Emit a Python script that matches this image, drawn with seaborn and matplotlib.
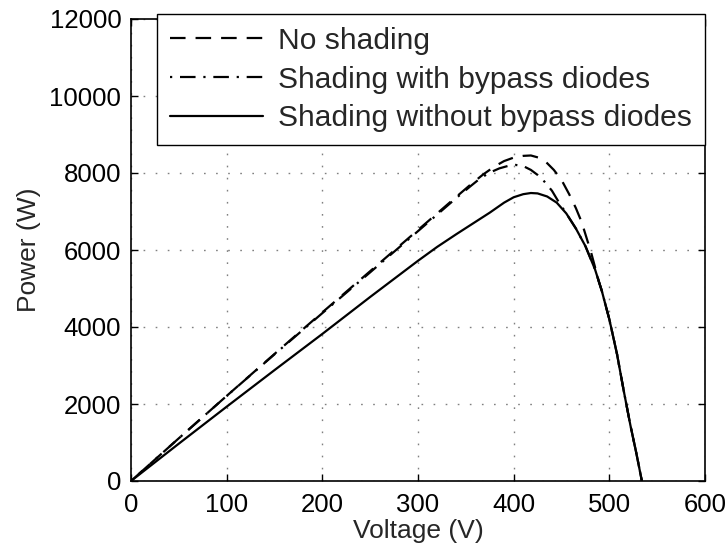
import matplotlib
matplotlib.use("Agg")
import matplotlib.pyplot as plt
import seaborn as sns
import pandas as pd

# P-V characteristics of the PV array (voltage in V, power in W)
v_no_shading = [0, 50, 100, 150, 200, 250, 300, 320, 340, 355, 368, 380, 390, 400, 410, 418,
                426, 434, 442, 450, 458, 465, 471, 476, 481, 485, 489, 492, 500, 508, 515,
                522, 528, 534]
p_no_shading = [0, 1110, 2210, 3300, 4380, 5450, 6520, 6950, 7380, 7700, 7960, 8170, 8310, 8400,
                8445, 8455, 8400, 8280, 8080, 7820, 7450, 7090, 6730, 6330, 5930, 5560, 5180,
                4950, 4200, 3300, 2350, 1450, 750, 0]

v_bypass = [0, 50, 100, 150, 200, 250, 300, 320, 340, 355, 365, 375, 385, 395, 402, 410,
            418, 425, 432, 440, 447, 455, 465, 475, 485, 492, 500, 508, 515, 522, 528, 534]
p_bypass = [0, 1110, 2210, 3290, 4360, 5420, 6490, 6920, 7350, 7660, 7860, 8010, 8120, 8190,
            8210, 8180, 8080, 7950, 7780, 7540, 7250, 6950, 6560, 6100, 5500, 4950, 4200,
            3300, 2350, 1450, 750, 0]

v_no_bypass = [0, 50, 100, 150, 200, 250, 300, 320, 340, 360, 375, 390, 400, 410, 418,
               425, 435, 445, 455, 465, 475, 485, 492, 500, 508, 515, 522, 528, 534]
p_no_bypass = [0, 970, 1930, 2880, 3820, 4780, 5720, 6080, 6410, 6730, 6970, 7230, 7370, 7450,
               7480, 7470, 7390, 7230, 6950, 6560, 6100, 5500, 4950, 4200, 3300, 2350, 1450,
               750, 0]

labels = ["No shading", "Shading with bypass diodes", "Shading without bypass diodes"]
x_ticks = [0, 100, 200, 300, 400, 500, 600]
y_ticks = [0, 2000, 4000, 6000, 8000, 10000, 12000]

sns.set_theme(style="white")
plt.rcParams["font.family"] = ["Liberation Sans", "DejaVu Sans"]

fig = plt.figure(figsize=(7.27, 5.54), dpi=100)
ax = fig.add_axes([131 / 727, 1 - 481 / 554, (705 - 131) / 727, (481 - 19) / 554])

series = [
    (v_no_shading, p_no_shading, labels[0], (0, (7, 4.5))),
    (v_bypass, p_bypass, labels[1], (0, (1, 3.5, 7, 3.5))),
    (v_no_bypass, p_no_bypass, labels[2], "-"),
]
for v, p, lab, ls in series:
    df = pd.DataFrame({"Voltage": v, "Power": p})
    sns.lineplot(data=df, x="Voltage", y="Power", ax=ax, color="black",
                 linewidth=1.6, linestyle=ls, label=lab, sort=False)

ax.set_xlim(0, 600)
ax.set_ylim(0, 12000)
ax.set_xticks(x_ticks)
ax.set_yticks(y_ticks)
ax.set_xticklabels([str(t) for t in x_ticks])
ax.set_yticklabels([str(t) for t in y_ticks])
ax.tick_params(direction="in", length=5, width=1, colors="black", labelsize=18.5,
               top=True, right=True, bottom=True, left=True)
ax.tick_params(axis="x", pad=9)
ax.tick_params(axis="y", pad=7)
ax.set_xlabel("Voltage (V)", fontsize=19, labelpad=1)
ax.set_ylabel("Power (W)", fontsize=19, labelpad=6)
for s in ax.spines.values():
    s.set_color("black")
    s.set_linewidth(1.2)
ax.grid(True, color="#808080", linestyle=(0, (1.2, 7.5)), linewidth=1.0)

handles = ax.get_lines()[:3]
if ax.get_legend() is not None:
    ax.get_legend().remove()
leg = ax.legend(handles, labels, loc="upper right",
                bbox_to_anchor=(705 / 727, 1 - 14 / 554), bbox_transform=fig.transFigure,
                fontsize=21.6, frameon=True, fancybox=False, framealpha=1,
                edgecolor="black", handlelength=3.1, handletextpad=0.5,
                labelspacing=0.36, borderaxespad=0, borderpad=0.43)
leg.get_frame().set_linewidth(1.0)

fig.savefig("out.png", dpi=100)
